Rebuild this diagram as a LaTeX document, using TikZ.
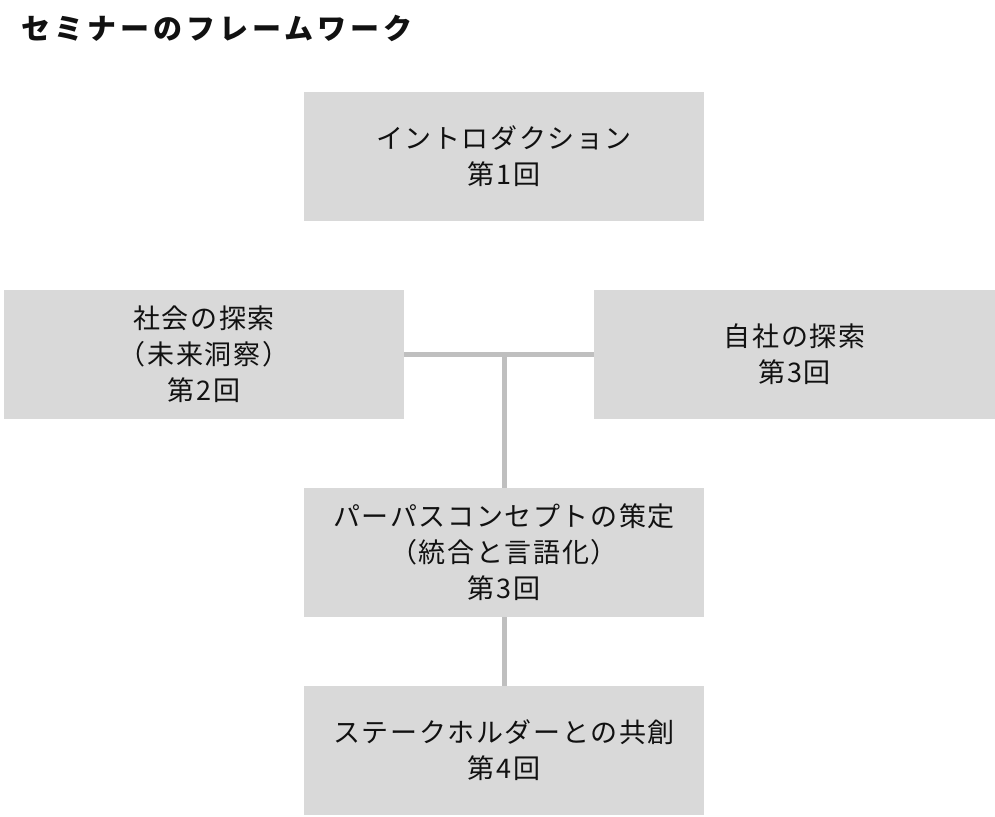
\documentclass[tikz,border=0pt]{standalone}
\usepackage{fontspec}
\setmainfont{Noto Sans CJK JP}
\definecolor{boxfill}{HTML}{D9D9D9}
\definecolor{linkgray}{HTML}{BFBFBF}
\definecolor{txt}{HTML}{111111}
\begin{document}
\begin{tikzpicture}[x=1pt,y=-1pt,
  stage/.style={rectangle, fill=boxfill, draw=none, minimum width=400pt, minimum height=129pt,
    inner sep=0pt, align=center, text=txt, font=\fontsize{27}{36}\selectfont\addfontfeature{LetterSpace=6}},
  link/.style={draw=linkgray, line width=5pt}]
\useasboundingbox (0,0) rectangle (995,816);
\node[anchor=west, font=\fontsize{29}{34}\selectfont\bfseries, text=txt, inner sep=0pt] (title) at (21,28)
  {\addfontfeature{LetterSpace=14}セミナーのフレームワーク};
\node[stage] (intro) at (504,156.5) {イントロダクション\\第1回};
\node[stage] (society) at (204,354.5) {社会の探索\\（未来洞察）\\第2回};
\node[stage, minimum width=401pt] (company) at (794.5,354.5) {自社の探索\\第3回};
\node[stage] (purpose) at (504,552.5) {パーパスコンセプトの策定\\（統合と言語化）\\第3回};
\node[stage] (cocreate) at (504,750.5) {ステークホルダーとの共創\\第4回};
\coordinate (junction) at (purpose.north |- society.east);
\draw[link] (society.east) -- (company.west);
\draw[link] (junction) -- (purpose.north);
\draw[link] (purpose.south) -- (cocreate.north);
\end{tikzpicture}
\end{document}
